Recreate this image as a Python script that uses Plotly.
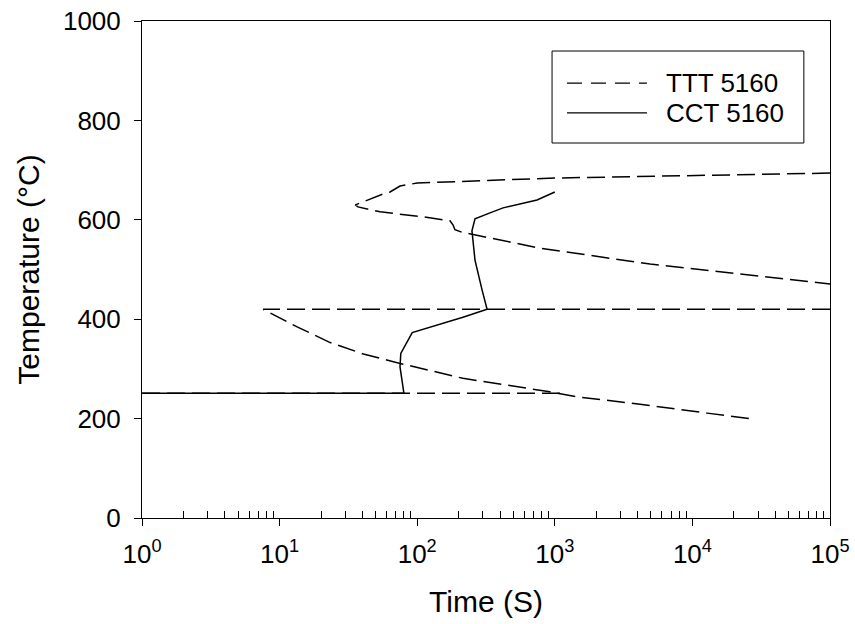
import plotly.graph_objects as go

# ---- data (time in s, temperature in °C) ----
# TTT 5160: upper C-curve (top branch -> nose -> bottom branch)
ttt_upper_t = [1e5, 4920, 1000, 100, 75, 63.5, 56.4, 40.4, 35.5, 37.1, 53.7, 110, 165, 173, 182, 188, 211, 400, 780, 4920, 20000, 1e5]
ttt_upper_T = [694, 688, 684, 674, 668, 656, 652, 636, 630, 626, 616, 606, 600, 598, 590, 580, 575, 560, 543, 511, 492, 471]
# TTT 5160: 420 °C line and lower curve
ttt_lower_t = [1e5, 7.6, 13.3, 23.3, 40.6, 75, 215, 920, 1440, 4160, 12800, 27600]
ttt_lower_T = [420, 420, 385, 353, 330, 311, 281, 254, 244, 229, 211, 199]
# TTT 5160: Ms line
ttt_ms_t = [1, 1100]
ttt_ms_T = [251, 251]

# CCT 5160
cct_t = [1, 80, 79, 76, 75, 76, 92, 215, 300, 322, 296, 263, 250, 263, 338, 421, 743, 1000]
cct_T = [251, 251, 262, 290, 304, 331, 373, 404, 416, 420, 459, 519, 578, 602, 614, 624, 640, 656]

x_tickvals = [1, 10, 100, 1000, 10000, 100000]
x_ticktext = ["10<sup>0</sup>", "10<sup>1</sup>", "10<sup>2</sup>", "10<sup>3</sup>", "10<sup>4</sup>", "10<sup>5</sup>"]
x_minor = [m * 10 ** d for d in range(5) for m in range(2, 10)]

legend_names = ["TTT 5160", "CCT 5160"]

FONT = "Arial, Liberation Sans, sans-serif"

ttt_x = ttt_upper_t + [None] + ttt_lower_t + [None] + ttt_ms_t
ttt_y = ttt_upper_T + [None] + ttt_lower_T + [None] + ttt_ms_T

fig = go.Figure()
fig.add_trace(go.Scatter(x=ttt_x, y=ttt_y, mode="lines", name=legend_names[0],
                         line=dict(color="black", width=1.5, dash="18px,7px"),
                         showlegend=False, connectgaps=False))
fig.add_trace(go.Scatter(x=cct_t, y=cct_T, mode="lines", name=legend_names[1],
                         line=dict(color="black", width=1.5),
                         showlegend=False))

# manual legend (paper coordinates)
fig.add_shape(type="rect", xref="paper", yref="paper", x0=0.596, x1=0.962, y0=0.7545, y1=0.9396,
              line=dict(color="black", width=1), fillcolor="white", layer="above")
fig.add_shape(type="line", xref="paper", yref="paper", x0=0.6177, x1=0.734, y0=0.875, y1=0.875,
              line=dict(color="black", width=1.2, dash="15px,9px"), layer="above")
fig.add_shape(type="line", xref="paper", yref="paper", x0=0.6177, x1=0.734, y0=0.815, y1=0.815,
              line=dict(color="black", width=1.2), layer="above")
for name, yy in zip(legend_names, [0.875, 0.815]):
    fig.add_annotation(x=0.758, y=yy, xref="paper", yref="paper", text=name, showarrow=False,
                       xanchor="left", yanchor="middle", font=dict(family=FONT, size=26, color="black"))

fig.update_layout(
    width=855, height=624,
    margin=dict(l=142, r=25, t=21, b=106, autoexpand=False),
    paper_bgcolor="white", plot_bgcolor="white",
    font=dict(family=FONT, color="black"),
    showlegend=False,
)
fig.update_xaxes(
    type="log", range=[0, 5],
    tickmode="array", tickvals=x_tickvals, ticktext=x_ticktext,
    ticks="outside", ticklen=7, tickwidth=1, tickcolor="black",
    tickfont=dict(size=26, family=FONT, color="black"), ticklabelstandoff=6,
    showline=True, linecolor="black", linewidth=1, mirror=True,
    showgrid=False, zeroline=False,
    minor=dict(tickmode="array", tickvals=x_minor, ticks="inside", ticklen=7, tickwidth=1,
               tickcolor="black", showgrid=False),
    title=dict(text="Time (S)", font=dict(size=30, family=FONT, color="black"), standoff=22),
)
fig.update_yaxes(
    range=[0, 1000], tickmode="linear", tick0=0, dtick=200,
    ticks="outside", ticklen=7, tickwidth=1, tickcolor="black",
    tickfont=dict(size=26, family=FONT, color="black"), ticklabelstandoff=8,
    showline=True, linecolor="black", linewidth=1, mirror=True,
    showgrid=False, zeroline=False,
    title=dict(text="Temperature (°C)", font=dict(size=30, family=FONT, color="black"), standoff=14),
)

fig.write_html("out.html")
